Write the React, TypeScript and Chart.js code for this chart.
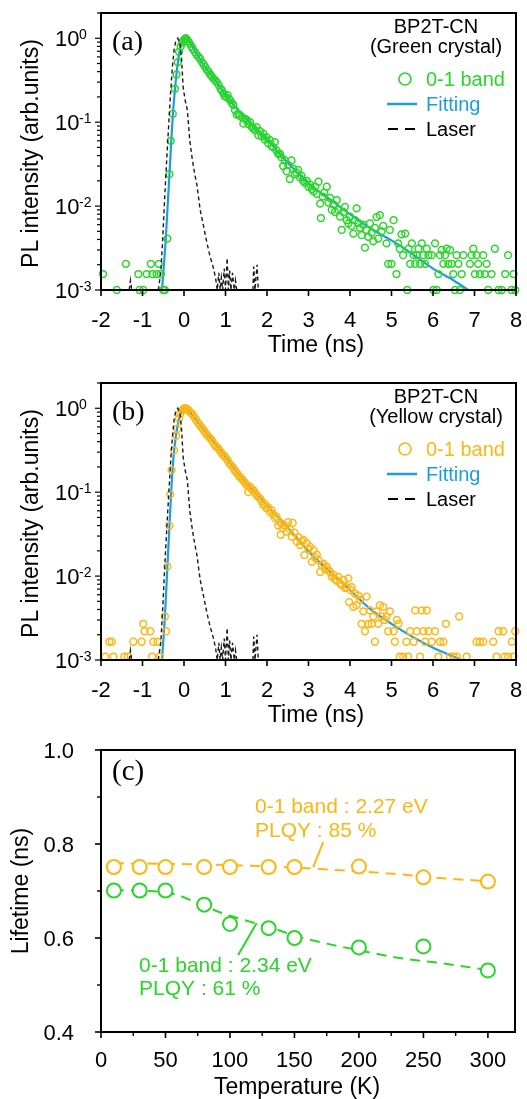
import React, { useEffect, useRef } from 'react';
import { Chart, registerables } from 'chart.js';

Chart.register(...registerables);

const SANS = '"Liberation Sans", Arial, Helvetica, sans-serif';
const SERIF = '"Liberation Serif", "Times New Roman", Times, serif';
const GREEN = '#29d629';
const YELLOW = '#ffb612';
const BLUE = '#1c9de2';
const INK = '#000000';

type XY = [number, number | null];

// ---------- Panel (a): green crystal, time-resolved PL ----------
const greenBand: XY[] = [
  [-1.95, 0.00155], [-1.62, 0.001], [-1.4, 0.00205], [-1.1, 0.00155], [-1.07, 0.001], [-0.98, 0.001],
  [-0.9, 0.00155], [-0.8, 0.00205], [-0.76, 0.00155], [-0.66, 0.00155], [-0.61, 0.00205], [-0.56, 0.00155],
  [-0.5, 0.001], [-0.46, 0.001],
  [-0.4, 0.0041], [-0.35, 0.024], [-0.32, 0.06], [-0.27, 0.126], [-0.22, 0.25], [-0.18, 0.37], [-0.15, 0.52],
  [-0.12, 0.69], [-0.08, 0.8], [-0.05, 0.88], [-0.02, 0.93], [0.01, 0.97], [0.04, 1.0], [0.07, 0.97], [0.1, 0.92],
  [0.14, 0.86], [0.18, 0.8], [0.21, 0.75], [0.26, 0.69], [0.3, 0.64], [0.35, 0.6], [0.39, 0.57], [0.43, 0.52],
  [0.47, 0.49], [0.51, 0.455], [0.55, 0.42], [0.59, 0.4], [0.63, 0.37], [0.67, 0.35], [0.71, 0.33], [0.75, 0.315],
  [0.79, 0.3], [0.84, 0.276], [0.88, 0.25], [0.91, 0.24], [0.95, 0.22], [0.98, 0.205], [1.01, 0.2], [1.05, 0.21],
  [1.08, 0.19], [1.11, 0.183], [1.15, 0.17], [1.19, 0.16], [1.23, 0.139], [1.27, 0.123], [1.31, 0.125],
  [1.35, 0.121], [1.39, 0.115], [1.43, 0.096], [1.47, 0.11], [1.51, 0.106], [1.55, 0.095], [1.59, 0.1],
  [1.63, 0.088], [1.67, 0.084], [1.71, 0.08], [1.75, 0.087], [1.79, 0.07], [1.83, 0.078], [1.87, 0.068],
  [1.91, 0.073], [1.95, 0.062], [1.99, 0.066], [2.03, 0.056], [2.07, 0.061], [2.11, 0.052], [2.15, 0.05],
  [2.19, 0.058], [2.23, 0.046], [2.27, 0.042], [2.31, 0.042], [2.35, 0.038], [2.39, 0.03], [2.43, 0.035],
  [2.47, 0.026], [2.51, 0.031], [2.55, 0.021], [2.59, 0.035], [2.63, 0.028], [2.67, 0.024], [2.71, 0.025],
  [2.75, 0.027], [2.79, 0.022], [2.83, 0.023], [2.87, 0.02], [2.91, 0.019], [2.96, 0.02], [3.0, 0.017],
  [3.04, 0.018], [3.08, 0.016], [3.12, 0.015], [3.16, 0.017], [3.2, 0.014], [3.24, 0.0195], [3.28, 0.0107],
  [3.3, 0.0072], [3.34, 0.013], [3.38, 0.0145], [3.44, 0.017], [3.48, 0.011], [3.52, 0.0125], [3.56, 0.009],
  [3.6, 0.0105], [3.64, 0.0085], [3.68, 0.0118], [3.72, 0.009], [3.76, 0.0075], [3.8, 0.0052], [3.84, 0.0085],
  [3.88, 0.0098], [3.92, 0.0068], [3.96, 0.0062], [4.0, 0.0075], [4.04, 0.0058], [4.08, 0.0047], [4.12, 0.0068],
  [4.16, 0.0094], [4.2, 0.0063], [4.24, 0.0055], [4.28, 0.0045], [4.32, 0.006], [4.36, 0.0032], [4.4, 0.0052],
  [4.44, 0.0043], [4.48, 0.0062], [4.52, 0.0048], [4.56, 0.0038], [4.6, 0.0055], [4.64, 0.0074], [4.68, 0.0041],
  [4.72, 0.0078], [4.76, 0.005], [4.8, 0.0058], [4.88, 0.0036], [4.92, 0.00205], [4.96, 0.0052], [5.0, 0.00205],
  [5.05, 0.0068], [5.12, 0.00155], [5.16, 0.0036], [5.2, 0.0031], [5.24, 0.0046], [5.28, 0.0026], [5.33, 0.0047],
  [5.38, 0.001], [5.41, 0.0031], [5.45, 0.00205], [5.49, 0.0036], [5.53, 0.0026], [5.57, 0.00205], [5.61, 0.0026],
  [5.65, 0.0031], [5.69, 0.00205], [5.73, 0.0036], [5.77, 0.0026], [5.81, 0.00205], [5.85, 0.0031], [5.89, 0.0026],
  [5.97, 0.0026], [6.01, 0.001], [6.05, 0.0036], [6.09, 0.001], [6.13, 0.00155], [6.17, 0.0026], [6.21, 0.003],
  [6.25, 0.00205], [6.29, 0.0026], [6.33, 0.0031], [6.37, 0.00205], [6.41, 0.003], [6.45, 0.00205], [6.49, 0.00155],
  [6.53, 0.001], [6.57, 0.0026], [6.61, 0.00205], [6.65, 0.001], [6.69, 0.00155], [6.73, 0.0026], [6.89, 0.00205],
  [6.93, 0.0026], [6.97, 0.0031], [7.01, 0.00155], [7.05, 0.0026], [7.09, 0.00205], [7.13, 0.00155], [7.21, 0.0026],
  [7.25, 0.00155], [7.29, 0.00205], [7.33, 0.001], [7.41, 0.00155], [7.49, 0.0031], [7.58, 0.001], [7.66, 0.001],
  [7.74, 0.00155], [7.81, 0.0026], [7.89, 0.001], [7.94, 0.00155], [7.98, 0.001],
];

const greenFit: XY[] = [
  [-0.53, 0.001], [-0.44, 0.004], [-0.39, 0.011], [-0.35, 0.024], [-0.31, 0.055], [-0.27, 0.12], [-0.22, 0.24],
  [-0.18, 0.38], [-0.14, 0.55], [-0.1, 0.72], [-0.05, 0.88], [0.0, 0.97], [0.04, 1.0], [0.1, 0.95], [0.3, 0.66],
  [0.5, 0.46], [0.75, 0.32], [1.0, 0.21], [1.5, 0.11], [2.0, 0.062], [2.5, 0.033], [3.0, 0.0185], [3.5, 0.0122],
  [4.0, 0.008], [4.5, 0.0054], [5.0, 0.0039], [5.5, 0.0027], [6.0, 0.0018], [6.5, 0.0013], [6.85, 0.001],
];

// ---------- Panel (b): yellow crystal, time-resolved PL ----------
const yellowBand: XY[] = [
  [-1.9, 0.0011], [-1.8, 0.00165], [-1.74, 0.00165], [-1.7, 0.0011], [-1.44, 0.0011], [-1.36, 0.0011],
  [-1.22, 0.00165], [-1.02, 0.00165], [-0.98, 0.0027], [-0.95, 0.0022], [-0.81, 0.0022], [-0.77, 0.0011],
  [-0.74, 0.00165], [-0.64, 0.00165], [-0.58, 0.0011], [-0.46, 0.0033], [-0.43, 0.0022],
  [-0.4, 0.013], [-0.35, 0.04], [-0.33, 0.094], [-0.3, 0.183], [-0.24, 0.316], [-0.19, 0.47], [-0.16, 0.57],
  [-0.12, 0.75], [-0.09, 0.86], [-0.05, 0.94], [-0.01, 0.98], [0.02, 1.0], [0.06, 0.99], [0.1, 0.96], [0.14, 0.91],
  [0.18, 0.87], [0.21, 0.84], [0.25, 0.78], [0.29, 0.73], [0.33, 0.68], [0.37, 0.64], [0.41, 0.6], [0.45, 0.57],
  [0.49, 0.53], [0.53, 0.5], [0.57, 0.47], [0.61, 0.45], [0.65, 0.43], [0.69, 0.4], [0.73, 0.37], [0.77, 0.35],
  [0.81, 0.34], [0.85, 0.32], [0.89, 0.3], [0.93, 0.28], [0.97, 0.27], [1.01, 0.255], [1.05, 0.24], [1.09, 0.22],
  [1.13, 0.21], [1.17, 0.2], [1.21, 0.185], [1.25, 0.175], [1.29, 0.165], [1.33, 0.155], [1.37, 0.148],
  [1.41, 0.14], [1.45, 0.133], [1.49, 0.125], [1.53, 0.118], [1.55, 0.1], [1.59, 0.116], [1.63, 0.108],
  [1.67, 0.106], [1.71, 0.098], [1.75, 0.092], [1.79, 0.088], [1.83, 0.084], [1.87, 0.078], [1.91, 0.07],
  [1.95, 0.072], [1.99, 0.064], [2.03, 0.066], [2.07, 0.058], [2.11, 0.061], [2.15, 0.054], [2.19, 0.049],
  [2.23, 0.051], [2.27, 0.04], [2.31, 0.044], [2.33, 0.031], [2.35, 0.042], [2.39, 0.037], [2.43, 0.04],
  [2.47, 0.034], [2.51, 0.044], [2.55, 0.036], [2.6, 0.0295], [2.62, 0.043], [2.66, 0.033], [2.72, 0.0257],
  [2.76, 0.029], [2.8, 0.0235], [2.84, 0.026], [2.88, 0.027], [2.9, 0.0178], [2.96, 0.0245], [3.0, 0.021],
  [3.04, 0.0223], [3.08, 0.0148], [3.12, 0.0204], [3.16, 0.0165], [3.2, 0.018], [3.24, 0.0155], [3.28, 0.0112],
  [3.32, 0.0135], [3.36, 0.0141], [3.4, 0.012], [3.44, 0.0129], [3.48, 0.0118], [3.52, 0.0112], [3.56, 0.0098],
  [3.6, 0.0103], [3.64, 0.0092], [3.68, 0.0088], [3.72, 0.0098], [3.76, 0.0082], [3.8, 0.0078], [3.84, 0.009],
  [3.88, 0.0072], [3.92, 0.0074], [3.96, 0.0094], [3.98, 0.0049], [4.02, 0.0068], [4.04, 0.0074], [4.08, 0.0043],
  [4.12, 0.0062], [4.16, 0.0045], [4.2, 0.0059], [4.24, 0.0052], [4.28, 0.0027], [4.32, 0.0038], [4.36, 0.0022],
  [4.4, 0.0057], [4.44, 0.0027], [4.48, 0.0039], [4.52, 0.0027], [4.56, 0.0033], [4.6, 0.00165], [4.64, 0.0038],
  [4.68, 0.0027], [4.72, 0.0045], [4.76, 0.0033], [4.8, 0.0043], [4.84, 0.003], [4.88, 0.0033], [4.92, 0.0022],
  [4.96, 0.0038], [5.05, 0.0022], [5.08, 0.00165], [5.13, 0.003], [5.17, 0.0027], [5.2, 0.0011], [5.28, 0.0011],
  [5.36, 0.00165], [5.4, 0.0011], [5.45, 0.0022], [5.53, 0.00165], [5.57, 0.0039], [5.61, 0.0022], [5.69, 0.0011],
  [5.73, 0.0039], [5.77, 0.0022], [5.81, 0.00165], [5.85, 0.0039], [5.89, 0.0022], [5.97, 0.00165], [6.05, 0.0022],
  [6.13, 0.0011], [6.17, 0.00165], [6.25, 0.00165], [6.31, 0.0027], [6.41, 0.0011], [6.49, 0.0011], [6.57, 0.0011],
  [6.63, 0.0033], [6.81, 0.0011], [7.05, 0.00165], [7.13, 0.00165], [7.21, 0.00165], [7.45, 0.00165],
  [7.53, 0.0011], [7.58, 0.0022], [7.69, 0.0022], [7.73, 0.0011], [7.81, 0.0011], [7.9, 0.00165], [7.94, 0.0011],
  [7.98, 0.0022],
];

const yellowFit: XY[] = [
  [-0.53, 0.001], [-0.46, 0.0033], [-0.4, 0.013], [-0.35, 0.04], [-0.3, 0.12], [-0.25, 0.27], [-0.2, 0.45],
  [-0.15, 0.64], [-0.1, 0.82], [-0.05, 0.93], [0.0, 0.99], [0.03, 1.0], [0.1, 0.95], [0.43, 0.59], [0.87, 0.32],
  [1.31, 0.165], [1.67, 0.105], [2.11, 0.061], [2.5, 0.038], [3.08, 0.018], [3.5, 0.0115], [4.0, 0.0068],
  [4.5, 0.004], [5.0, 0.0027], [5.5, 0.0019], [6.0, 0.0014], [6.4, 0.00115], [6.69, 0.001],
];

// Instrument response (laser), shared by (a) and (b); null = below 10^-3 (gap)
const laserIRF: XY[] = [
  [-1.32, 0.001], [-1.29, 0.0013], [-1.26, 0.001], [-1.25, null],
  [-0.62, 0.001], [-0.56, 0.0016], [-0.52, 0.0035], [-0.48, 0.009], [-0.44, 0.022], [-0.4, 0.05], [-0.36, 0.11],
  [-0.32, 0.24], [-0.28, 0.45], [-0.24, 0.72], [-0.2, 0.92], [-0.15, 1.0], [-0.1, 0.88], [-0.06, 0.58],
  [-0.02, 0.26], [0.03, 0.18], [0.08, 0.14], [0.14, 0.06], [0.2, 0.036], [0.26, 0.024], [0.31, 0.018],
  [0.39, 0.009], [0.47, 0.0058], [0.55, 0.0037], [0.62, 0.0026], [0.7, 0.0019], [0.76, 0.0014], [0.8, 0.001],
  [0.84, 0.0016], [0.87, 0.001], [0.9, 0.0014], [0.93, 0.001], [0.97, 0.0018], [1.0, 0.001], [1.04, 0.0024],
  [1.07, 0.001], [1.1, 0.0017], [1.13, 0.001], [1.17, 0.0016], [1.21, 0.001], [1.24, 0.0013], [1.27, 0.001],
  [1.3, null],
  [1.66, 0.001], [1.68, 0.0019], [1.71, 0.001], [1.76, 0.002], [1.79, 0.001],
];

const timeTicks = [-2, -1, 0, 1, 2, 3, 4, 5, 6, 7, 8];
const logExponents = [0, -1, -2, -3];

// ---------- Panel (c): lifetime vs temperature ----------
const temperatures = [10, 30, 50, 80, 100, 130, 150, 200, 250, 300];
const lifetimeYellow = [0.751, 0.751, 0.751, 0.751, 0.751, 0.751, 0.751, 0.752, 0.729, 0.72];
const lifetimeGreen = [0.701, 0.701, 0.701, 0.671, 0.63, 0.621, 0.6, 0.58, 0.582, 0.531];
const fitTempsYellow = [10, 50, 100, 150, 180, 210, 230, 265, 300];
const fitYellow = [0.759, 0.758, 0.755, 0.75, 0.745, 0.74, 0.736, 0.727, 0.721];
const fitTempsGreen = [10, 30, 50, 60, 80, 95, 115, 130, 150, 175, 200, 230, 265, 300];
const fitGreen = [0.702, 0.701, 0.697, 0.691, 0.668, 0.652, 0.635, 0.624, 0.605, 0.588, 0.574, 0.558, 0.546, 0.532];
const tempMajor = [0, 50, 100, 150, 200, 250, 300];
const tempMinor = [25, 75, 125, 175, 225, 275];
const lifeMajor = [0.4, 0.6, 0.8, 1.0];
const lifeMinor = [0.5, 0.7, 0.9];

const toPts = (arr: XY[]) => arr.map(([x, y]) => ({ x, y }));
const zipPts = (xs: number[], ys: number[]) => xs.map((x, i) => ({ x, y: ys[i] }));

function txt(ctx: CanvasRenderingContext2D, s: string, x: number, y: number, size: number, color: string,
  align: CanvasTextAlign = 'left', family = SANS) {
  ctx.save();
  ctx.font = `${size}px ${family}`;
  ctx.fillStyle = color;
  ctx.textAlign = align;
  ctx.textBaseline = 'alphabetic';
  ctx.fillText(s, x, y);
  ctx.restore();
}

function vtxt(ctx: CanvasRenderingContext2D, s: string, x: number, y: number, size: number) {
  ctx.save();
  ctx.translate(x, y);
  ctx.rotate(-Math.PI / 2);
  ctx.font = `${size}px ${SANS}`;
  ctx.fillStyle = INK;
  ctx.textAlign = 'center';
  ctx.textBaseline = 'alphabetic';
  ctx.fillText(s, 0, 0);
  ctx.restore();
}

function seg(ctx: CanvasRenderingContext2D, x1: number, y1: number, x2: number, y2: number, color: string,
  width: number, dash: number[] = []) {
  ctx.save();
  ctx.strokeStyle = color;
  ctx.lineWidth = width;
  ctx.setLineDash(dash);
  ctx.beginPath();
  ctx.moveTo(x1, y1);
  ctx.lineTo(x2, y2);
  ctx.stroke();
  ctx.restore();
}

function frame(ctx: CanvasRenderingContext2D, ca: any) {
  ctx.save();
  ctx.strokeStyle = INK;
  ctx.lineWidth = 2;
  ctx.strokeRect(ca.left, ca.top, ca.right - ca.left, ca.bottom - ca.top);
  ctx.restore();
}

type DecayPanel = {
  tag: string;
  crystal: string;
  color: string;
  band: XY[];
  fit: XY[];
  padTop: number;
};

function decayConfig(p: DecayPanel): any {
  const decor = {
    id: 'decor' + p.tag,
    afterDraw(chart: any) {
      const { ctx, chartArea: ca } = chart;
      const xs = chart.scales.x;
      const ys = chart.scales.y;
      frame(ctx, ca);
      timeTicks.forEach((v) => {
        const px = xs.getPixelForValue(v);
        seg(ctx, px, ca.bottom, px, ca.bottom + 6, INK, 1.6);
        txt(ctx, String(v), px, ca.bottom + 37, 22, INK, 'center');
      });
      for (let e = -3; e <= 0; e++) {
        for (let k = 1; k <= 9; k++) {
          const v = k * Math.pow(10, e);
          if (v > 2) break;
          const py = ys.getPixelForValue(v);
          seg(ctx, ca.left - (k === 1 ? 6 : 4), py, ca.left, py, INK, 1.2);
        }
      }
      logExponents.forEach((e) => {
        const py = ys.getPixelForValue(Math.pow(10, e));
        txt(ctx, '10', ca.left - 46, py + 8, 22, INK, 'left');
        txt(ctx, String(e), ca.left - 22, py + 1, 14, INK, 'left');
      });
      txt(ctx, 'Time (ns)', 316, ca.bottom + 62, 23, INK, 'center');
      vtxt(ctx, 'PL intensity (arb.units)', 38, (ca.top + ca.bottom) / 2 + 2, 23);
      txt(ctx, p.tag, 112, ca.top + 37, 28, INK, 'left', SERIF);
      txt(ctx, 'BP2T-CN', 436, ca.top + 20, 20, INK, 'center');
      txt(ctx, p.crystal, 436, ca.top + 40, 20, INK, 'center');
      // legend
      ctx.save();
      ctx.strokeStyle = p.color;
      ctx.lineWidth = 1.6;
      ctx.beginPath();
      ctx.arc(405, ca.top + 66, 6, 0, Math.PI * 2);
      ctx.stroke();
      ctx.restore();
      txt(ctx, '0-1 band', 426, ca.top + 73, 20, p.color, 'left');
      seg(ctx, 387, ca.top + 91, 417, ca.top + 91, BLUE, 2.5);
      txt(ctx, 'Fitting', 426, ca.top + 98, 20, BLUE, 'left');
      seg(ctx, 388, ca.top + 116, 418, ca.top + 116, INK, 2, [10, 7]);
      txt(ctx, 'Laser', 426, ca.top + 123, 20, INK, 'left');
    },
  };
  return {
    type: 'scatter',
    data: {
      datasets: [
        {
          label: 'Laser', data: toPts(laserIRF), showLine: true, borderColor: '#1a1a1a', borderWidth: 1.4,
          borderDash: [4, 3], pointRadius: 0, spanGaps: false,
        },
        {
          label: '0-1 band', data: toPts(p.band), showLine: false, pointRadius: 3.4, pointBorderWidth: 1.5,
          pointStyle: 'circle', borderColor: p.color, pointBorderColor: p.color,
          backgroundColor: 'rgba(0,0,0,0)', pointBackgroundColor: 'rgba(0,0,0,0)', clip: false,
        },
        {
          label: 'Fitting', data: toPts(p.fit), showLine: true, borderColor: BLUE, borderWidth: 2.2,
          pointRadius: 0, cubicInterpolationMode: 'monotone',
        },
      ],
    },
    options: {
      animation: false,
      responsive: false,
      maintainAspectRatio: false,
      devicePixelRatio: 1,
      events: [],
      layout: { padding: { left: 101, right: 11, top: p.padTop, bottom: 75 } },
      scales: {
        x: { type: 'linear', min: -2, max: 8, display: false },
        y: { type: 'logarithmic', min: 0.001, max: 2, display: false },
      },
      plugins: { legend: { display: false }, tooltip: { enabled: false } },
    },
    plugins: [decor],
  };
}

function lifetimeConfig(): any {
  const decor = {
    id: 'decorC',
    afterDraw(chart: any) {
      const { ctx, chartArea: ca } = chart;
      const xs = chart.scales.x;
      const ys = chart.scales.y;
      frame(ctx, ca);
      tempMajor.forEach((v) => {
        const px = xs.getPixelForValue(v);
        seg(ctx, px, ca.bottom, px, ca.bottom + 6, INK, 1.6);
        txt(ctx, String(v), px, ca.bottom + 35, 22, INK, 'center');
      });
      tempMinor.forEach((v) => {
        const px = xs.getPixelForValue(v);
        seg(ctx, px, ca.bottom, px, ca.bottom + 4, INK, 1.4);
      });
      lifeMajor.forEach((v) => {
        const py = ys.getPixelForValue(v);
        seg(ctx, ca.left - 6, py, ca.left, py, INK, 1.6);
        txt(ctx, v.toFixed(1), 74, py + 8, 22, INK, 'right');
      });
      lifeMinor.forEach((v) => {
        const py = ys.getPixelForValue(v);
        seg(ctx, ca.left - 4, py, ca.left, py, INK, 1.4);
      });
      txt(ctx, 'Temperature (K)', 297, ca.bottom + 62, 23, INK, 'center');
      vtxt(ctx, 'Lifetime (ns)', 28, (ca.top + ca.bottom) / 2, 23);
      txt(ctx, '(c)', 112, ca.top + 30, 29, INK, 'left', SERIF);
      // annotations (placed in data coordinates)
      const X = (v: number) => xs.getPixelForValue(v);
      const Y = (v: number) => ys.getPixelForValue(v);
      txt(ctx, '0-1 band : 2.27 eV', X(119.4), Y(0.8656), 21, YELLOW, 'left');
      txt(ctx, 'PLQY : 85 %', X(119.4), Y(0.814), 21, YELLOW, 'left');
      seg(ctx, X(172.3), Y(0.804), X(164.6), Y(0.751), YELLOW, 2);
      txt(ctx, '0-1 band : 2.34 eV', X(29.5), Y(0.5285), 21, GREEN, 'left');
      txt(ctx, 'PLQY : 61 %', X(29.5), Y(0.479), 21, GREEN, 'left');
      seg(ctx, X(106.4), Y(0.564), X(120.7), Y(0.632), GREEN, 2);
    },
  };
  return {
    type: 'scatter',
    data: {
      datasets: [
        {
          label: 'Yellow crystal', data: zipPts(temperatures, lifetimeYellow), showLine: false, pointRadius: 7,
          pointBorderWidth: 2, borderColor: YELLOW, pointBorderColor: YELLOW, pointBackgroundColor: '#ffffff',
          backgroundColor: '#ffffff', clip: false,
        },
        {
          label: 'Green crystal', data: zipPts(temperatures, lifetimeGreen), showLine: false, pointRadius: 7,
          pointBorderWidth: 2, borderColor: GREEN, pointBorderColor: GREEN, pointBackgroundColor: '#ffffff',
          backgroundColor: '#ffffff', clip: false,
        },
        {
          label: 'Yellow fit', data: zipPts(fitTempsYellow, fitYellow), showLine: true, borderColor: YELLOW,
          borderWidth: 2, borderDash: [10, 7], pointRadius: 0, cubicInterpolationMode: 'monotone',
        },
        {
          label: 'Green fit', data: zipPts(fitTempsGreen, fitGreen), showLine: true, borderColor: GREEN,
          borderWidth: 2, borderDash: [10, 7], pointRadius: 0, cubicInterpolationMode: 'monotone',
        },
      ],
    },
    options: {
      animation: false,
      responsive: false,
      maintainAspectRatio: false,
      devicePixelRatio: 1,
      events: [],
      layout: { padding: { left: 101, right: 12, top: 15, bottom: 67 } },
      scales: {
        x: { type: 'linear', min: 0, max: 321, display: false },
        y: { type: 'linear', min: 0.4, max: 1.0, display: false },
      },
      plugins: { legend: { display: false }, tooltip: { enabled: false } },
    },
    plugins: [decor],
  };
}

function ChartCanvas({ top, height, make }: { top: number; height: number; make: () => any }) {
  const ref = useRef<HTMLCanvasElement>(null);
  useEffect(() => {
    const chart = new Chart(ref.current as HTMLCanvasElement, make());
    return () => chart.destroy();
  }, []);
  return (
    <canvas
      ref={ref}
      width={527}
      height={height}
      style={{ position: 'absolute', left: 0, top, width: 527, height, display: 'block' }}
    />
  );
}

export default function App() {
  return (
    <div style={{ position: 'absolute', left: 0, top: 0, width: 527, height: 1099, background: '#ffffff', overflow: 'hidden' }}>
      <ChartCanvas
        top={0}
        height={365}
        make={() => decayConfig({ tag: '(a)', crystal: '(Green crystal)', color: GREEN, band: greenBand, fit: greenFit, padTop: 13 })}
      />
      <ChartCanvas
        top={365}
        height={370}
        make={() => decayConfig({ tag: '(b)', crystal: '(Yellow crystal)', color: YELLOW, band: yellowBand, fit: yellowFit, padTop: 18 })}
      />
      <ChartCanvas top={735} height={364} make={lifetimeConfig} />
    </div>
  );
}
